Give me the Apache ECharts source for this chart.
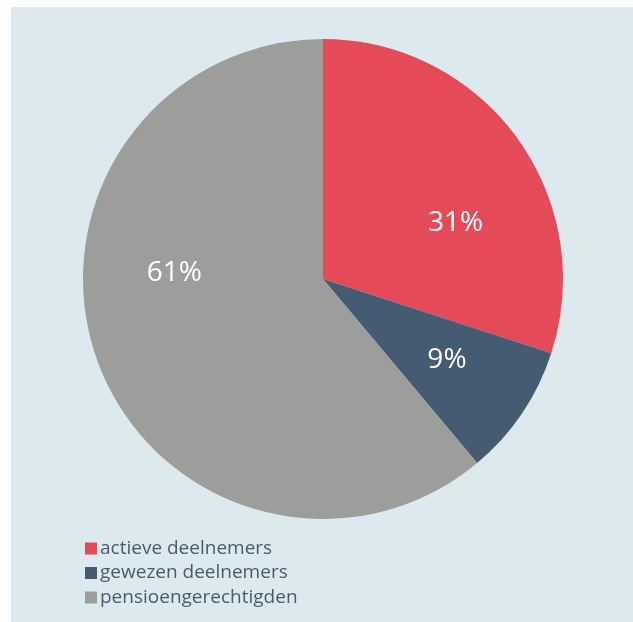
<!DOCTYPE html>
<html>
<head>
<meta charset="utf-8">
<script src="https://cdn.jsdelivr.net/npm/echarts@6/dist/echarts.min.js"></script>
<style>
	html, body { margin: 0; padding: 0; background: #ffffff; }
	#pie { position: absolute; left: 11px; top: 7px; width: 622px; height: 615px; background: #dce9ef; }
</style>
</head>
<body>
<div id="pie"></div>
<script>
// data
var categories = ['actieve deelnemers', 'gewezen deelnemers', 'pensioengerechtigden'];
var values = [30.0, 8.9, 61.1];
var labels = ['31%', '9%', '61%'];
var colors = ['#e44a57', '#445b71', '#9d9d9b'];
// shift of each label from the default inside position
var labelShift = [[33, 16], [22, 12], [-33, -48]];

window.onload = function(){
	var myChart = echarts.init(document.getElementById('pie'));
	var option = {
		animation: false,
		legend: {
			orient: 'vertical',
			left: 74,
			top: 532,
			padding: 0,
			itemWidth: 12,
			itemHeight: 12,
			itemGap: 5.5,
			icon: 'rect',
			textStyle: {
				fontFamily: 'Open Sans',
				fontWeight: 500,
				fontSize: 19,
				color: '#4a5a6e',
				padding: [0, 0, 0, -2]
			},
			data: categories
		},
		series: [{
			type: 'pie',
			center: [312, 272],
			radius: 240,
			startAngle: 90,
			clockwise: true,
			label: {
				show: true,
				position: 'inside',
				color: '#ffffff',
				fontFamily: 'Open Sans',
				fontWeight: 400,
				fontSize: 28,
				formatter: function(p){ return labels[p.dataIndex]; }
			},
			labelLayout: function(p){
				return { dx: labelShift[p.dataIndex][0], dy: labelShift[p.dataIndex][1] };
			},
			emphasis: { disabled: true },
			data: categories.map(function(c, i){
				return { name: c, value: values[i], itemStyle: { color: colors[i] } };
			})
		}]
	};
	myChart.setOption(option);
	window.addEventListener('resize', function(){
		myChart.resize();
	});
};
</script>
</body>
</html>
